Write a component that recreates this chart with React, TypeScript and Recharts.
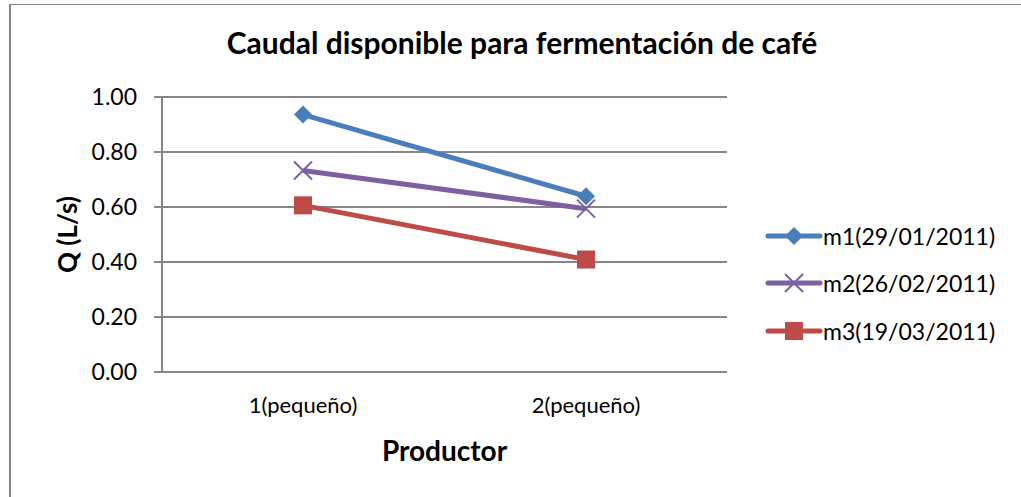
import { CartesianGrid, Line, LineChart, XAxis, YAxis } from "recharts";

const productores = ["1(pequeño)", "2(pequeño)"];
const m1 = [0.936, 0.639];
const m2 = [0.733, 0.594];
const m3 = [0.606, 0.409];
const yTicks = [0, 0.2, 0.4, 0.6, 0.8, 1.0];

const series = [
  { key: "m1", name: "m1(29/01/2011)", color: "#4a7ebb", shape: "diamond" },
  { key: "m2", name: "m2(26/02/2011)", color: "#7d60a0", shape: "x" },
  { key: "m3", name: "m3(19/03/2011)", color: "#be4b48", shape: "square" },
];

const data = productores.map((p, i) => ({ p, m1: m1[i], m2: m2[i], m3: m3[i] }));

const FONT = "Lato, 'Open Sans', sans-serif";
const GRID = "#868686";

function Marker({ cx, cy, shape, color }: any) {
  if (cx == null || cy == null) return null;
  const r = 9;
  if (shape === "diamond") {
    return <path d={`M${cx},${cy - r}L${cx + r},${cy}L${cx},${cy + r}L${cx - r},${cy}Z`} fill={color} />;
  }
  if (shape === "square") {
    return <rect x={cx - r} y={cy - r} width={r * 2} height={r * 2} fill={color} />;
  }
  return (
    <path d={`M${cx - r},${cy - r}L${cx + r},${cy + r}M${cx - r},${cy + r}L${cx + r},${cy - r}`} stroke={color} strokeWidth={2} fill="none" />
  );
}

function LegendBox() {
  return (
    <div style={{ position: "absolute", left: 765, top: 212, fontFamily: FONT, fontSize: 23, color: "#000" }}>
      {series.map((s) => (
        <div key={s.key} style={{ display: "flex", alignItems: "center", height: 47.5 }}>
          <svg width={58} height={24}>
            <line x1={3} y1={12} x2={55} y2={12} stroke={s.color} strokeWidth={5} strokeLinecap="round" />
            <Marker cx={29} cy={12} shape={s.shape} color={s.color} />
          </svg>
          <span>{s.name}</span>
        </div>
      ))}
    </div>
  );
}

export default function App() {
  return (
    <div style={{ position: "absolute", left: 0, top: 0, width: 1021, height: 497, overflow: "hidden", background: "#fff" }}>
      <div style={{ position: "absolute", left: 9, top: 4, width: 1040, height: 520, borderLeft: `2px solid ${GRID}`, borderTop: `1px solid ${GRID}` }} />
      <div style={{ position: "absolute", left: 0, top: 24, width: 1044, textAlign: "center", fontFamily: FONT, fontWeight: 700, fontSize: 30, color: "#000" }}>
        Caudal disponible para fermentación de café
      </div>
      <div style={{ position: "absolute", left: 0, top: 0 }}>
        <LineChart width={1021} height={497} data={data} margin={{ top: 97, right: 294, bottom: 55, left: 62 }}>
          <CartesianGrid vertical={false} stroke={GRID} strokeWidth={2} />
          <XAxis
            dataKey="p"
            padding={{ left: 141, right: 141 }}
            height={70}
            axisLine={{ stroke: GRID, strokeWidth: 2 }}
            tickLine={false}
            tick={{ fontFamily: FONT, fontSize: 22, fill: "#000" }}
            tickMargin={19}
            label={{ value: "Productor", position: "insideBottom", offset: -19, fontFamily: FONT, fontSize: 28, fontWeight: 700, fill: "#000" }}
          />
          <YAxis
            width={100}
            domain={[0, 1]}
            ticks={yTicks}
            tickFormatter={(v: number) => v.toFixed(2)}
            axisLine={{ stroke: GRID, strokeWidth: 2 }}
            tickLine={{ stroke: GRID, strokeWidth: 2 }}
            tickSize={8}
            tickMargin={17}
            tick={{ fontFamily: FONT, fontSize: 23, fill: "#000" }}
            label={{ value: "Q (L/s)", angle: -90, position: "insideLeft", offset: 0, dx: 6, fontFamily: FONT, fontSize: 26, fontWeight: 700, fill: "#000", style: { textAnchor: "middle" } }}
          />
          {series.map((s) => (
            <Line
              key={s.key}
              dataKey={s.key}
              name={s.name}
              stroke={s.color}
              strokeWidth={5}
              isAnimationActive={false}
              dot={(props: any) => <Marker key={`${s.key}-${props.index}`} cx={props.cx} cy={props.cy} shape={s.shape} color={s.color} />}
              activeDot={false}
            />
          ))}
        </LineChart>
      </div>
      <LegendBox />
    </div>
  );
}
